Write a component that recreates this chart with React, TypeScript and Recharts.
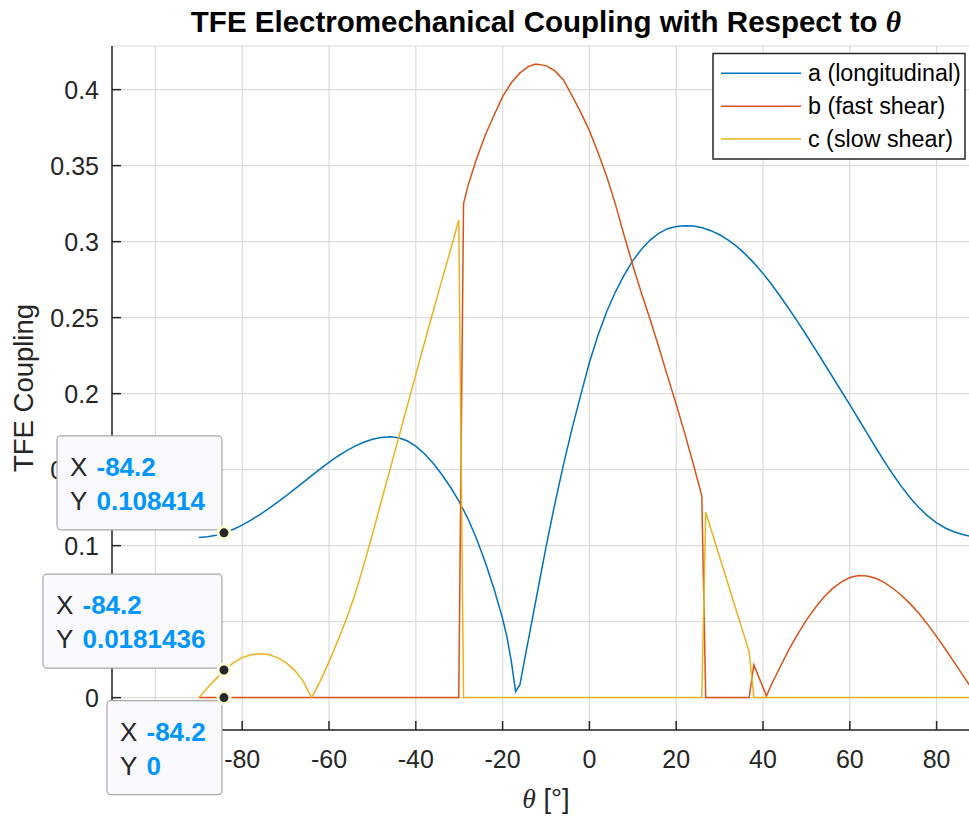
import React from 'react';
import { LineChart, Line, XAxis, YAxis, CartesianGrid, ReferenceDot } from 'recharts';

// ---- data ----
const thetaA = [-90, -88, -86, -84.2, -82, -80, -78, -76, -74, -72, -70, -68, -66, -64, -62, -60, -58, -56, -54, -52, -50, -48, -46, -44, -42, -40, -38, -36, -34, -32, -30, -28, -26, -24, -22, -20, -19, -18, -17, -16, -15, -14, -12, -10, -8, -6, -4, -2, 0, 2, 4, 6, 8, 10, 12, 14, 16, 18, 20, 22, 24, 26, 28, 30, 32, 34, 36, 38, 40, 42, 44, 46, 48, 50, 52, 54, 56, 58, 60, 62, 64, 66, 68, 70, 72, 74, 76, 78, 80, 82, 84, 86, 88, 90];
const couplingA = [0.1053, 0.1058, 0.1068, 0.1084, 0.1108, 0.1135, 0.1168, 0.1203, 0.1242, 0.1283, 0.1325, 0.137, 0.1415, 0.146, 0.1505, 0.1548, 0.1588, 0.1624, 0.1655, 0.168, 0.17, 0.1712, 0.1717, 0.171, 0.169, 0.1655, 0.1605, 0.1542, 0.1468, 0.1384, 0.129, 0.1178, 0.1045, 0.089, 0.0718, 0.052, 0.04, 0.024, 0.004, 0.0085, 0.024, 0.039, 0.069, 0.099, 0.127, 0.153, 0.177, 0.199, 0.2205, 0.2385, 0.254, 0.267, 0.278, 0.2875, 0.295, 0.301, 0.3055, 0.3085, 0.31, 0.3105, 0.3102, 0.3091, 0.3072, 0.3045, 0.301, 0.2967, 0.2916, 0.2857, 0.2791, 0.2718, 0.2639, 0.2557, 0.2472, 0.2384, 0.2294, 0.2203, 0.2111, 0.2019, 0.1927, 0.1833, 0.1738, 0.1644, 0.1553, 0.1466, 0.1385, 0.1312, 0.1248, 0.1194, 0.115, 0.1116, 0.1091, 0.1073, 0.1059, 0.1053];

const thetaB = [-90, -30.1, -29, -28, -26, -24, -22, -20, -18, -16, -14, -12.4, -10, -8, -6, -4, -2, 0, 2, 4, 6, 8, 10, 12, 14, 16, 18, 20, 22, 24, 25.9, 26.8, 36.8, 37.9, 40.8, 42, 44, 46, 48, 50, 52, 54, 56, 58, 60, 62, 64, 66, 68, 70, 72, 74, 76, 78, 80, 82, 84, 86, 88, 90];
const couplingB = [0, 0, 0.3248, 0.3365, 0.3545, 0.37, 0.383, 0.3954, 0.4045, 0.411, 0.4152, 0.4169, 0.4158, 0.4125, 0.4065, 0.396, 0.385, 0.373, 0.3585, 0.3428, 0.3245, 0.304, 0.2845, 0.266, 0.2487, 0.2305, 0.2115, 0.193, 0.1735, 0.153, 0.1327, 0, 0, 0.0215, 0.001, 0.009, 0.0205, 0.0318, 0.0418, 0.051, 0.059, 0.066, 0.0717, 0.076, 0.079, 0.0803, 0.08, 0.0785, 0.0757, 0.0718, 0.067, 0.0615, 0.0552, 0.048, 0.0401, 0.032, 0.0235, 0.015, 0.0065, 0];

const thetaC = [-90, -88, -86, -84.2, -82, -80, -78, -76, -74, -72, -70, -68, -66, -64, -62, -60, -58, -56, -54, -52, -50, -48, -46, -44, -42, -40, -38, -36, -34, -32, -30.1, -29, 25.9, 26.8, 36.8, 37.9, 90];
const couplingC = [0, 0.0065, 0.0125, 0.0181, 0.023, 0.0263, 0.0282, 0.0288, 0.0283, 0.0265, 0.0232, 0.0183, 0.011, 0, 0.011, 0.0235, 0.0372, 0.0515, 0.068, 0.087, 0.1075, 0.1285, 0.1495, 0.1705, 0.1915, 0.2125, 0.2335, 0.2542, 0.2745, 0.2945, 0.3143, 0, 0, 0.122, 0.0303, 0, 0];

const seriesNames = ['a (longitudinal)', 'b (fast shear)', 'c (slow shear)'];
const seriesColors = ['#0072BD', '#D95319', '#EDB120'];

const xTicks = [-100, -80, -60, -40, -20, 0, 20, 40, 60, 80];
const yTicks = [0, 0.05, 0.1, 0.15, 0.2, 0.25, 0.3, 0.35, 0.4];
const yTickLabels = ['0', '0.05', '0.1', '0.15', '0.2', '0.25', '0.3', '0.35', '0.4'];

const tipX = [-84.2, -84.2, -84.2];
const tipY = [0.108414, 0.0181436, 0];
const tipXLabels = ['-84.2', '-84.2', '-84.2'];
const tipYLabels = ['0.108414', '0.0181436', '0'];

// ---- layout / style ----
const FONT = '"Liberation Sans", Arial, Helvetica, sans-serif';
const SERIF = '"Liberation Serif", "Times New Roman", serif';
const AX = '#262626';
const TICK_LEN = 9;
const tipBoxes = [
  { dx: -167, dy: -97, w: 165 },
  { dx: -181, dy: -96, w: 179 },
  { dx: -117, dy: 3, w: 115 },
];

const toRows = (t: number[], v: number[]) => t.map((x, i) => ({ theta: x, value: v[i] }));
const seriesData = [toRows(thetaA, couplingA), toRows(thetaB, couplingB), toRows(thetaC, couplingC)];

const BottomTick = (props: any) => {
  const { x, y, payload } = props;
  const ay = y - 12;
  return (
    <g>
      <line x1={x} x2={x} y1={ay} y2={ay - TICK_LEN} stroke={AX} strokeWidth={1.5} />
      <text x={x} y={ay + 38} textAnchor="middle" fontSize={25} fontFamily={FONT} fill={AX}>
        {String(payload.value)}
      </text>
    </g>
  );
};

const TopTick = (props: any) => {
  const { x, y } = props;
  return <line x1={x} x2={x} y1={y} y2={y + TICK_LEN} stroke={AX} strokeWidth={1.5} />;
};

const LeftTick = (props: any) => {
  const { x, y, payload } = props;
  const ax = x + 13;
  const idx = yTicks.indexOf(payload.value);
  return (
    <g>
      <line x1={ax} x2={ax + TICK_LEN} y1={y} y2={y} stroke={AX} strokeWidth={1.5} />
      <text x={x} y={y + 9} textAnchor="end" fontSize={25} fontFamily={FONT} fill={AX}>
        {idx >= 0 ? yTickLabels[idx] : String(payload.value)}
      </text>
    </g>
  );
};

const makeTipShape = (i: number) => (props: any) => {
  const { cx, cy } = props;
  const b = tipBoxes[i];
  const bx = cx + b.dx;
  const by = cy + b.dy;
  return (
    <g>
      <rect x={bx} y={by} width={b.w} height={94} rx={4} ry={4} fill="#F9F9FE" stroke="#A9A9A9" strokeWidth={1.2} />
      <text x={bx + 13} y={by + 40} fontSize={26} fontFamily={FONT} fill={AX}>X</text>
      <text x={bx + 39.5} y={by + 40} fontSize={26} fontFamily={FONT} fontWeight="bold" fill="#0096FF">{tipXLabels[i]}</text>
      <text x={bx + 13} y={by + 74} fontSize={26} fontFamily={FONT} fill={AX}>Y</text>
      <text x={bx + 39.5} y={by + 74} fontSize={26} fontFamily={FONT} fontWeight="bold" fill="#0096FF">{tipYLabels[i]}</text>
      <circle cx={cx} cy={cy} r={6} fill="#262626" stroke="#FFFCD8" strokeWidth={3} />
    </g>
  );
};

export default function App() {
  return (
    <div style={{ position: 'fixed', left: 0, top: 0, width: 969, height: 816, overflow: 'hidden', background: '#fff' }}>
      <LineChart width={1000} height={816} margin={{ top: 46, right: 20, bottom: 26, left: 0 }}>
        <CartesianGrid stroke="#dcdcdc" strokeWidth={1.2} />
        <XAxis
          dataKey="theta"
          type="number"
          domain={[-110, 90]}
          ticks={xTicks}
          interval={0}
          allowDataOverflow
          height={60}
          tickSize={0}
          tickMargin={12}
          tick={<BottomTick />}
          axisLine={{ stroke: AX, strokeWidth: 1.5 }}
        />
        <XAxis
          xAxisId="top"
          orientation="top"
          type="number"
          domain={[-110, 90]}
          ticks={xTicks}
          interval={0}
          allowDataOverflow
          height={0}
          tickSize={0}
          tickMargin={0}
          tick={<TopTick />}
          axisLine={{ stroke: AX, strokeWidth: 1.5 }}
        />
        <YAxis
          type="number"
          domain={[-0.0213, 0.4287]}
          ticks={yTicks}
          interval={0}
          allowDataOverflow
          width={112}
          tickSize={0}
          tickMargin={13}
          tick={<LeftTick />}
          axisLine={{ stroke: AX, strokeWidth: 1.5 }}
        />
        {seriesData.map((d, i) => (
          <Line
            key={seriesNames[i]}
            data={d}
            dataKey="value"
            name={seriesNames[i]}
            stroke={seriesColors[i]}
            strokeWidth={1.5}
            dot={false}
            activeDot={false}
            type="linear"
            isAnimationActive={false}
          />
        ))}
        {tipX.map((x, i) => (
          <ReferenceDot
            key={'tip' + i}
            x={x}
            y={tipY[i]}
            r={6}
            ifOverflow="visible"
            zIndex={2000}
            shape={makeTipShape(i)}
          />
        ))}
      </LineChart>
      <svg width={969} height={816} style={{ position: 'absolute', left: 0, top: 0, pointerEvents: 'none' }}>
        <text x={546} y={32} textAnchor="middle" fontSize={29.5} fontWeight="bold" fontFamily={FONT} fill="#000">
          TFE Electromechanical Coupling with Respect to{' '}
          <tspan fontFamily={SERIF} fontStyle="italic">θ</tspan>
        </text>
        <text x={546} y={808} textAnchor="middle" fontSize={27.5} fontFamily={FONT} fill={AX}>
          <tspan fontFamily={SERIF} fontStyle="italic">θ</tspan> [°]
        </text>
        <text transform="translate(33,388) rotate(-90)" textAnchor="middle" fontSize={27.5} fontFamily={FONT} fill={AX}>
          TFE Coupling
        </text>
        <g>
          <rect x={713} y={53.5} width={252} height={105.5} fill="#fff" stroke={AX} strokeWidth={1.5} />
          {seriesNames.map((n, i) => {
            const yy = 73.3 + i * 32.9;
            return (
              <g key={n}>
                <line x1={721} x2={801} y1={yy} y2={yy} stroke={seriesColors[i]} strokeWidth={1.5} />
                <text x={808} y={yy + 8} fontSize={23.3} fontFamily={FONT} fill="#000">{n}</text>
              </g>
            );
          })}
        </g>
      </svg>
    </div>
  );
}
